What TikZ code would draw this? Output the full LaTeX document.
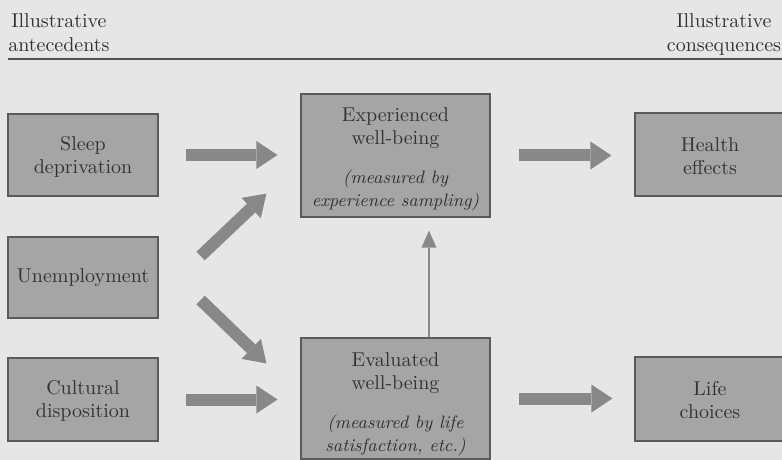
\documentclass[tikz,border=0pt]{standalone}
\usetikzlibrary{arrows.meta,calc}
\definecolor{bgc}{HTML}{E6E6E6}
\definecolor{boxfill}{HTML}{A5A5A5}
\definecolor{boxline}{HTML}{5A5A5A}
\definecolor{arrowc}{HTML}{888888}
\definecolor{txt}{HTML}{333333}
\definecolor{rulec}{HTML}{505050}
\newcommand{\itl}{\fontsize{9}{11}\selectfont\itshape}
\begin{document}
\begin{tikzpicture}[x=0.5pt,y=-0.5pt,
  box/.style={draw=boxline, fill=boxfill, line width=0.6pt, inner sep=0pt,
    align=center, text=txt, font=\fontsize{10}{11.5}\selectfont},
  sidebox/.style={box, minimum width=75pt},
  midbox/.style={box, minimum width=94.5pt},
  head/.style={text=txt, font=\fontsize{10}{12}\selectfont, anchor=base, inner sep=0pt},
  blockarrow/.style={draw=arrowc, line width=6pt,
    -{Triangle[length=10.5pt,width=14pt,line width=0pt]}},
  thinarrow/.style={draw=arrowc, line width=1pt,
    -{Triangle[length=8.5pt,width=7.5pt,line width=0pt]}},
  rule/.style={draw=rulec, line width=0.7pt}]
\fill[bgc] (0,0) rectangle (782,460);
\useasboundingbox (0,0) rectangle (782,460);

% headers
\node[head] (h1a) at (59,28) {Illustrative};
\node[head] (h1b) at (59,52) {antecedents};
\node[head] (h2a) at (724,28) {Illustrative};
\node[head] (h2b) at (724,52) {consequences};
\draw[rule] (8,59) -- (790,59);

% boxes
\node[sidebox, minimum height=41pt] (sleep) at (83,155) {\rule{0pt}{8.5pt}Sleep\\deprivation};
\node[sidebox, minimum height=40.5pt] (unemp) at (83,277.5) {Unemployment};
\node[sidebox, minimum height=41.5pt] (cult) at (83,399.5) {\rule{0pt}{8pt}Cultural\\disposition};
\node[midbox, minimum height=61.5pt] (exp) at (395.5,155.5)
  {\rule{0pt}{11pt}Experienced\\well-being\\[8pt]\itl (measured by\\\itl experience sampling)};
\node[midbox, minimum height=60.5pt] (eval) at (395.5,398.5)
  {\rule{0pt}{12.5pt}Evaluated\\well-being\\[8pt]\itl (measured by life\\\itl satisfaction, etc.)};
\node[sidebox, minimum height=41.5pt] (health) at (710,154.5) {\rule{0pt}{8.5pt}Health\\effects};
\node[sidebox, minimum height=42pt] (life) at (710,399) {\rule{0pt}{8.5pt}Life\\choices};

% connectors
\draw[blockarrow, shorten <=13.5pt, shorten >=11.5pt] (sleep.east) -- (sleep.east -| exp.west);
\draw[blockarrow, shorten <=14pt, shorten >=11.5pt] (exp.east) -- (exp.east -| health.west);
\draw[blockarrow, shorten <=13.5pt, shorten >=11.5pt] (cult.east) -- (cult.east -| eval.west);
\draw[blockarrow, shorten <=14pt, shorten >=11pt] (eval.east) -- (eval.east -| life.west);
\draw[blockarrow] ($(unemp.east)+(42,-21.5)$) -- ($(exp.south west)+(-34,-24)$);
\draw[blockarrow] ($(unemp.east)+(42,22.5)$) -- ($(eval.north west)+(-34,26)$);
\draw[thinarrow] ($(eval.north)+(33.5,0)$) -- ($(exp.south)+(33.5,13)$);
\end{tikzpicture}
\end{document}
